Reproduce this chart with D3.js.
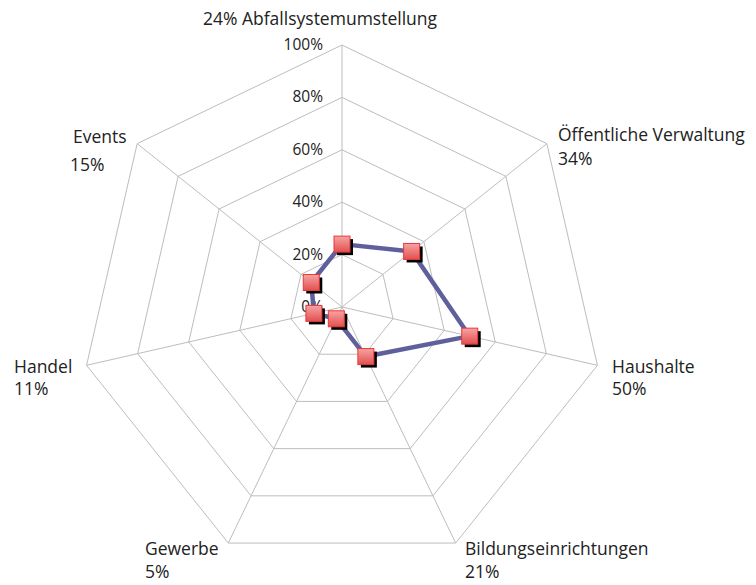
<!DOCTYPE html>
<html>
<head>
<meta charset="utf-8">
<style>
  body { margin: 0; background: #fff; }
  svg text { font-family: "Open Sans", Lato, sans-serif; fill: #222; }
</style>
</head>
<body>
<script src="https://cdn.jsdelivr.net/npm/d3@7"></script>
<script>
// values
const categories = ["Abfallsystemumstellung", "Öffentliche Verwaltung", "Haushalte",
  "Bildungseinrichtungen", "Gewerbe", "Handel", "Events"];
const values = [24, 34, 50, 21, 5, 11, 15];
const ticks = [0, 20, 40, 60, 80, 100];

const w = 756, h = 585;
const cx = 342, cy = 307, R = 262;

const svg = d3.select("body").append("svg").attr("width", w).attr("height", h);

const r = d3.scaleLinear().domain([0, 100]).range([0, R]);
const ang = d3.scaleLinear().domain([0, categories.length]).range([0, 2 * Math.PI]);

const pt = (i, v) => [cx + r(v) * Math.sin(ang(i)), cy - r(v) * Math.cos(ang(i))];

const defs = svg.append("defs");
const grad = defs.append("linearGradient").attr("id", "mk").attr("x1", 0).attr("y1", 0).attr("x2", 0).attr("y2", 1);
grad.append("stop").attr("offset", "0%").attr("stop-color", "#f7a3a3");
grad.append("stop").attr("offset", "100%").attr("stop-color", "#e25050");

// grid polygons
svg.append("g").selectAll("polygon").data(ticks.slice(1)).enter().append("polygon")
  .attr("points", t => categories.map((c, i) => pt(i, t).join(",")).join(" "))
  .attr("fill", "none").attr("stroke", "#bdbdbd").attr("stroke-width", 1);

// spokes
svg.append("g").selectAll("line").data(categories).enter().append("line")
  .attr("x1", cx).attr("y1", cy)
  .attr("x2", (d, i) => pt(i, 100)[0]).attr("y2", (d, i) => pt(i, 100)[1])
  .attr("stroke", "#bdbdbd").attr("stroke-width", 1);

// tick labels
svg.append("g").selectAll("text").data(ticks).enter().append("text")
  .attr("x", cx - 19).attr("y", t => cy - r(t) + 5)
  .attr("text-anchor", "end").attr("font-size", 15.5)
  .text(t => t + "%");

// series line
const line = d3.line().curve(d3.curveLinearClosed);
svg.append("path")
  .attr("d", line(values.map((v, i) => pt(i, v))))
  .attr("fill", "none").attr("stroke", "#5f5f9c").attr("stroke-width", 4.5)
  .attr("stroke-linejoin", "round");

// markers
const s = 16;
const mk = svg.append("g").selectAll("g").data(values).enter().append("g")
  .attr("transform", (v, i) => "translate(" + pt(i, v).join(",") + ")");
mk.append("rect").attr("x", -s / 2 + 3).attr("y", -s / 2 + 3).attr("width", s).attr("height", s).attr("fill", "#000");
mk.append("rect").attr("x", -s / 2).attr("y", -s / 2).attr("width", s).attr("height", s)
  .attr("fill", "url(#mk)").attr("stroke", "#e8383a").attr("stroke-width", 1);

// category labels
const labels = [
  { lines: [values[0] + "% " + categories[0]], x: 320, y: 25, anchor: "middle", dy: 0 },
  { lines: [categories[1], values[1] + "%"], x: 558, y: 141, anchor: "start", dy: 24 },
  { lines: [categories[2], values[2] + "%"], x: 612, y: 373, anchor: "start", dy: 22 },
  { lines: [categories[3], values[3] + "%"], x: 465, y: 555, anchor: "start", dy: 23 },
  { lines: [categories[4], values[4] + "%"], x: 145, y: 555, anchor: "start", dy: 23 },
  { lines: [categories[5], values[5] + "%"], x: 14, y: 373, anchor: "start", dy: 22 },
  { lines: [categories[6], values[6] + "%"], x: 73, y: 143, anchor: "start", dy: 28, dx: -3 }
];
const lg = svg.append("g").selectAll("text").data(labels).enter().append("text")
  .attr("x", d => d.x).attr("y", d => d.y).attr("text-anchor", d => d.anchor).attr("font-size", 17.5);
lg.selectAll("tspan").data(d => d.lines.map((l, k) => ({ l, k, d }))).enter().append("tspan")
  .attr("x", e => e.d.x + (e.k > 0 && e.d.dx ? e.d.dx : 0))
  .attr("dy", e => e.k === 0 ? 0 : e.d.dy)
  .text(e => e.l);
</script>
</body>
</html>
